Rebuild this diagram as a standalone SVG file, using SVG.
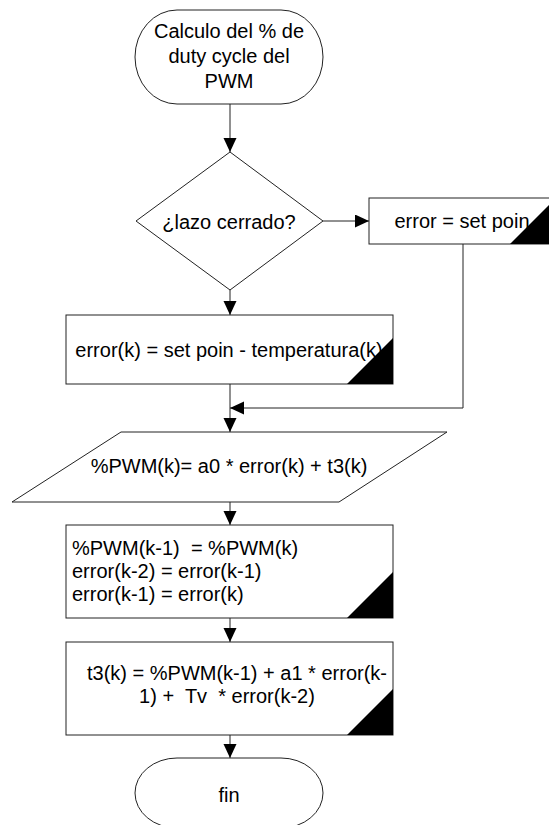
<svg xmlns="http://www.w3.org/2000/svg" width="549" height="825" viewBox="0 0 549 825">
<style>
.s{fill:#fff;stroke:#222;stroke-width:1}
.c{fill:none;stroke:#222;stroke-width:1}
.t{font-family:"Liberation Sans",Arial,sans-serif;font-size:20px;fill:#000}
.m{text-anchor:middle}
.k{fill:#000;stroke:none}
</style>
<defs>
<marker id="ah" markerUnits="userSpaceOnUse" markerWidth="14" markerHeight="14" refX="14" refY="6.5" orient="auto">
<path d="M0,0 L14,6.5 L0,13 z" fill="#000"/>
</marker>
</defs>
<rect width="549" height="825" fill="#fff"/>
<g id="connectors">
<line class="c" x1="230" y1="104" x2="230" y2="152" marker-end="url(#ah)"/>
<line class="c" x1="323" y1="221" x2="369" y2="221" marker-end="url(#ah)"/>
<line class="c" x1="230" y1="290" x2="230" y2="315" marker-end="url(#ah)"/>
<line class="c" x1="230" y1="384" x2="230" y2="432" marker-end="url(#ah)"/>
<polyline class="c" points="463,244 463,408 230,408" marker-end="url(#ah)"/>
<line class="c" x1="230" y1="502" x2="230" y2="525" marker-end="url(#ah)"/>
<line class="c" x1="230" y1="618" x2="230" y2="642" marker-end="url(#ah)"/>
<line class="c" x1="230" y1="735" x2="230" y2="758" marker-end="url(#ah)"/>
</g>
<g id="start">
<rect class="s" x="135" y="10" width="188" height="94" rx="42" ry="47"/>
<text class="t m" x="229" y="38">Calculo del % de</text>
<text class="t m" x="229" y="63">duty cycle del</text>
<text class="t m" x="229" y="88">PWM</text>
</g>
<g id="decision">
<polygon class="s" points="230,152 323,221 230,290 136,221"/>
<text class="t m" x="229" y="229">¿lazo cerrado?</text>
</g>
<g id="open-loop">
<rect class="s" x="369" y="198" width="187" height="46"/>
<polygon class="k" points="510,244 556,244 556,198"/>
<text class="t m" x="462" y="228">error = set poin</text>
</g>
<g id="closed-loop">
<rect class="s" x="66" y="315" width="327" height="69"/>
<polygon class="k" points="347,384 393,384 393,338"/>
<text class="t m" x="229" y="357">error(k) = set poin - temperatura(k)</text>
</g>
<g id="pwm">
<polygon class="s" points="121,432 447,432 339,502 12,502"/>
<text class="t m" x="229" y="473">%PWM(k)= a0 * error(k) + t3(k)</text>
</g>
<g id="shift">
<rect class="s" x="66" y="525" width="327" height="93"/>
<polygon class="k" points="347,618 393,618 393,572"/>
<text class="t" x="72" y="555" xml:space="preserve">%PWM(k-1)  = %PWM(k)</text>
<text class="t" x="72" y="578">error(k-2) = error(k-1)</text>
<text class="t" x="72" y="601">error(k-1) = error(k)</text>
</g>
<g id="t3">
<rect class="s" x="66" y="642" width="327" height="93"/>
<polygon class="k" points="347,735 393,735 393,689"/>
<text class="t m" x="237" y="680">t3(k) = %PWM(k-1) + a1 * error(k-</text>
<text class="t m" x="227" y="703" xml:space="preserve">1) +  Tv  * error(k-2)</text>
</g>
<g id="end">
<rect class="s" x="135" y="758" width="188" height="70" rx="42" ry="35"/>
<text class="t m" x="229" y="802">fin</text>
</g>
</svg>
